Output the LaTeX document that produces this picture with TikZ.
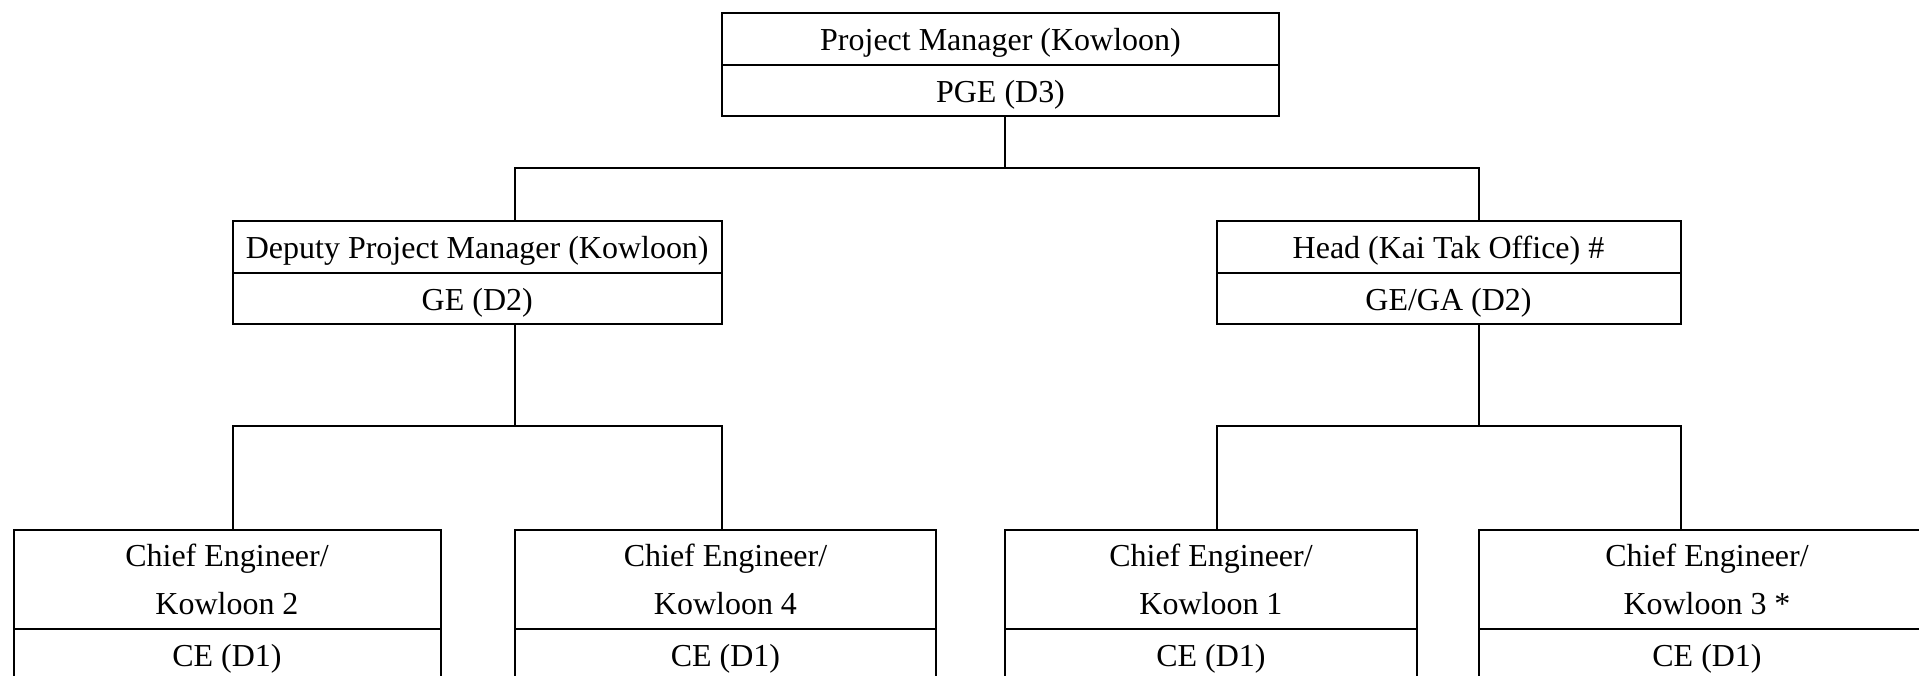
\documentclass[tikz,border=0pt]{standalone}
\usepackage{fontspec}
\setmainfont{Liberation Serif}
\usetikzlibrary{positioning}

\begin{document}
\begin{tikzpicture}[x=1mm, y=1mm,
    boxstyle/.style={draw, rectangle, line width=0.2mm, anchor=north west, inner sep=0pt, outer sep=0pt,
        minimum height=5.15mm, align=center, font=\fontsize{9.1pt}{13.7pt}\selectfont},
    onestyle/.style={boxstyle, text height=8.6pt, text depth=2pt},
    linkstyle/.style={line width=0.2mm}]
    \useasboundingbox (0,0) rectangle (191.9,67.6);
    \clip (0,0) rectangle (191.9,67.6);
    % top post
    \node[onestyle, minimum width=55.7mm] (pm) at (72.2,66.25) {Project Manager (Kowloon)};
    \node[onestyle, minimum width=55.7mm, below=0pt of pm] (pmg) {PGE (D3)};
    % second level
    \node[onestyle, minimum width=48.95mm] (dpm) at (23.25,45.45) {Deputy Project Manager (Kowloon)};
    \node[onestyle, minimum width=48.95mm, below=0pt of dpm] (dpmg) {GE (D2)};
    \node[onestyle, minimum width=46.4mm] (head) at (121.65,45.45) {Head (Kai Tak Office) \#};
    \node[onestyle, minimum width=46.4mm, below=0pt of head] (headg) {GE/GA (D2)};
    % chief engineers
    \node[boxstyle, minimum width=42.7mm, minimum height=9.9mm] (kl2) at (1.35,14.6) {Chief Engineer/\\Kowloon 2};
    \node[onestyle, minimum width=42.7mm, minimum height=5.1mm, below=0pt of kl2] (kl2g) {CE (D1)};
    \node[boxstyle, minimum width=42.1mm, minimum height=9.9mm] (kl4) at (51.5,14.6) {Chief Engineer/\\Kowloon 4};
    \node[onestyle, minimum width=42.1mm, minimum height=5.1mm, below=0pt of kl4] (kl4g) {CE (D1)};
    \node[boxstyle, line width=0.12mm, minimum width=41.2mm, minimum height=9.9mm] (kl1) at (100.5,14.6) {Chief Engineer/\\Kowloon 1};
    \node[onestyle, line width=0.12mm, minimum width=41.2mm, minimum height=5.1mm, below=0pt of kl1] (kl1g) {CE (D1)};
    \node[boxstyle, minimum width=45.7mm, minimum height=9.9mm] (kl3) at (147.85,14.6) {Chief Engineer/\\Kowloon 3 *};
    \node[onestyle, minimum width=45.7mm, minimum height=5.1mm, below=0pt of kl3] (kl3g) {CE (D1)};
    % lines between posts
    \coordinate (bar1) at (0,50.83);
    \coordinate (bar2) at (0,25.0);
    \draw[linkstyle] (pmg.south -| kl1.west) -- (bar1 -| kl1.west);
    \draw[linkstyle] (dpm.north -| kl4.west) |- (bar1 -| kl3.west) -- (head.north -| kl3.west);
    \draw[linkstyle] (dpmg.south -| kl4.west) -- (bar2 -| kl4.west);
    \draw[linkstyle] (kl2.north -| dpmg.south west) |- (bar2 -| dpmg.south east) -- (kl4.north -| dpmg.south east);
    \draw[linkstyle] (headg.south -| kl3.west) -- (bar2 -| kl3.west);
    \draw[linkstyle] (kl1.north -| headg.south west) |- (bar2 -| headg.south east) -- (kl3.north -| headg.south east);
\end{tikzpicture}
\end{document}
